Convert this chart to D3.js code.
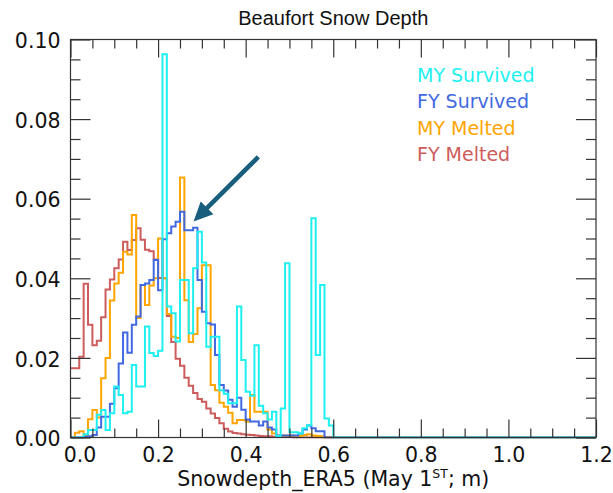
<!DOCTYPE html>
<html>
<head>
<meta charset="utf-8">
<script src="https://cdn.jsdelivr.net/npm/d3@7"></script>
<style>
  html, body { margin: 0; padding: 0; background: #fff; }
  svg { display: block; }
</style>
</head>
<body>
<div id="chart"></div>
<script>
// Histogram bin width (m); bin i covers [i*binWidth, (i+1)*binWidth)
const binWidth = 0.01;

// Normalized frequency per 0.01 m snow-depth bin, starting at 0.00 m
const mySurvived = [
  0, 0, 0, 0.0008, 0.0019, 0.0019, 0.0057, 0.0069, 0.0019, 0.0061,
  0.0128, 0.0107, 0.0061, 0.0065, 0.0182, 0.0128, 0.0128, 0.0279, 0.0212, 0.0205,
  0.0218, 0.0963, 0.0329, 0.0312, 0.0241, 0.0396, 0.0396, 0.0262, 0.0425, 0.0517,
  0.0440, 0.0228, 0.0253, 0.0253, 0.0119, 0.0110, 0.0086, 0.0086, 0.0329, 0.0195,
  0.0115, 0.0105, 0.0232, 0.0080, 0.0061, 0.0045, 0.0065, 0.0004, 0.0073, 0.0438,
  0.0013, 0.0013, 0.0010, 0.0023, 0.0031, 0.0551, 0.0207, 0.0383, 0.0048, 0.0030
];
const fySurvived = [
  0, 0, 0, 0.0002, 0.0003, 0.0006, 0.0025, 0.0052, 0.0052, 0.0085,
  0.0124, 0.0186, 0.0264, 0.0213, 0.0283, 0.0304, 0.0383, 0.0387, 0.0396, 0.0446,
  0.0370, 0.0498, 0.0513, 0.0530, 0.0542, 0.0567, 0.0521, 0.0521, 0.0527, 0.0396,
  0.0316, 0.0287, 0.0284, 0.0207, 0.0132, 0.0118, 0.0095, 0.0077, 0.0100, 0.0070,
  0.0045, 0.0040, 0.0040, 0.0030, 0.0040, 0.0025, 0.0020, 0.0005, 0.0005, 0.0005,
  0.0005, 0.0005, 0.0010, 0.0020, 0.0030, 0.0023, 0.0016, 0.0016
];
const myMelted = [
  0, 0.0012, 0.0016, 0.0006, 0.0046, 0.0069, 0.0050, 0.0149, 0.0200, 0.0344,
  0.0387, 0.0414, 0.0467, 0.0460, 0.0559, 0.0300, 0.0383, 0.0333, 0.0382, 0.0400,
  0.0500, 0.0400, 0.0310, 0.0253, 0.0250, 0.0653, 0.0345, 0.0240, 0.0260, 0.0325,
  0.0433, 0.0433, 0.0132, 0.0119, 0.0087, 0.0077, 0.0062, 0.0036, 0.0044, 0.0044,
  0.0040, 0.0107, 0.0065, 0.0065, 0.0065, 0.0020, 0.0010, 0.0005, 0.0005, 0.0005,
  0.0005, 0.0004, 0.0004, 0.0006, 0.0008, 0.0005, 0.0004, 0.0003
];
const fyMelted = [
  0.0174, 0.0174, 0.0203, 0.0386, 0.0283, 0.0232, 0.0243, 0.0302, 0.0372, 0.0397,
  0.0425, 0.0447, 0.0492, 0.0471, 0.0496, 0.0526, 0.0497, 0.0472, 0.0468, 0.0447,
  0.0401, 0.0400, 0.0305, 0.0240, 0.0198, 0.0180, 0.0150, 0.0130, 0.0112, 0.0097,
  0.0090, 0.0073, 0.0060, 0.0049, 0.0036, 0.0022, 0.0015, 0.0011, 0.0010, 0.0008,
  0.0007, 0.0006, 0.0005, 0.0004, 0.0003, 0.0003, 0.0002, 0.0002, 0.0002, 0.0001,
  0.0001
];

const seriesNames = ["MY Survived", "FY Survived", "MY Melted", "FY Melted"];
const seriesColors = ["#1ef0f0", "#4169e1", "#ffa500", "#cd5c5c"];
const seriesData = [mySurvived, fySurvived, myMelted, fyMelted];

const xTicksMajor = [0.0, 0.2, 0.4, 0.6, 0.8, 1.0, 1.2];
const yTicksMajor = [0.00, 0.02, 0.04, 0.06, 0.08, 0.10];

// Arrow annotation, in data units: tail and head
const arrowFrom = [0.429, 0.0705];
const arrowTo = [0.281, 0.0543];

const W = 613, H = 493;
const L = 70.5, R = 596, T = 39.5, B = 437.5;

const x = d3.scaleLinear().domain([0, 1.2]).range([L, R]);
const y = d3.scaleLinear().domain([0, 0.1]).range([B, T]);

const svg = d3.select("#chart").append("svg")
  .attr("width", W).attr("height", H);

svg.append("defs").append("clipPath").attr("id", "plotclip")
  .append("rect").attr("x", L).attr("y", T - 1).attr("width", R - L).attr("height", B - T + 2);

// Title
svg.append("text")
  .attr("x", (L + R) / 2).attr("y", 25)
  .attr("text-anchor", "middle")
  .style("font-family", "'Liberation Sans', Arial, sans-serif")
  .style("font-size", "20px")
  .attr("fill", "#111")
  .text("Beaufort Snow Depth");

// Step path for one histogram; runs along zero out to the end of the axis
function stepPath(vals) {
  const p = d3.path();
  p.moveTo(x(0), y(vals[0]));
  for (let i = 0; i < vals.length; i++) {
    if (i > 0) p.lineTo(x(i * binWidth), y(vals[i]));
    p.lineTo(x((i + 1) * binWidth), y(vals[i]));
  }
  p.lineTo(x(vals.length * binWidth), y(0));
  p.lineTo(x(1.2), y(0));
  return p.toString();
}

const gData = svg.append("g").attr("clip-path", "url(#plotclip)");
// drawn so that the survived curves sit on top
[3, 2, 1, 0].forEach(k => {
  gData.append("path")
    .attr("d", stepPath(seriesData[k]))
    .attr("fill", "none")
    .attr("stroke", seriesColors[k])
    .attr("stroke-width", 2)
    .attr("stroke-linejoin", "miter");
});

// Frame
svg.append("rect")
  .attr("x", L).attr("y", T).attr("width", R - L).attr("height", B - T)
  .attr("fill", "none").attr("stroke", "#333").attr("stroke-width", 1.2);

const fontTick = "'DejaVu Sans', Verdana, sans-serif";
const xMinor = d3.range(0, 1.2001, 0.05).filter(v => Math.abs(v * 5 - Math.round(v * 5)) > 1e-6);
const yMinor = d3.range(0, 0.10001, 0.005).filter(v => Math.abs(v * 50 - Math.round(v * 50)) > 1e-6);

function styleAxis(g) {
  g.select(".domain").remove();
  g.selectAll("line").attr("stroke", "#333").attr("stroke-width", 1.2);
  g.attr("font-family", null).attr("font-size", null);
  g.selectAll("text").style("font-family", fontTick).style("font-size", "20.5px").attr("fill", "#111");
}

// bottom
const gxB = svg.append("g").attr("transform", `translate(0,${B})`)
  .call(d3.axisBottom(x).tickValues(xTicksMajor).tickSize(-18).tickPadding(10).tickFormat(d3.format(".1f")));
styleAxis(gxB);
gxB.selectAll("text").filter(d => d === 0).attr("dx", "9");
const gxBm = svg.append("g").attr("transform", `translate(0,${B})`)
  .call(d3.axisBottom(x).tickValues(xMinor).tickSize(-9).tickFormat(""));
styleAxis(gxBm);
// top
const gxT = svg.append("g").attr("transform", `translate(0,${T})`)
  .call(d3.axisTop(x).tickValues(xTicksMajor).tickSize(-18).tickFormat(""));
styleAxis(gxT);
const gxTm = svg.append("g").attr("transform", `translate(0,${T})`)
  .call(d3.axisTop(x).tickValues(xMinor).tickSize(-9).tickFormat(""));
styleAxis(gxTm);
// left
const gyL = svg.append("g").attr("transform", `translate(${L},0)`)
  .call(d3.axisLeft(y).tickValues(yTicksMajor).tickSize(-20).tickPadding(10).tickFormat(d3.format(".2f")));
styleAxis(gyL);
gyL.selectAll("text").attr("dy", "0.4em");
const gyLm = svg.append("g").attr("transform", `translate(${L},0)`)
  .call(d3.axisLeft(y).tickValues(yMinor).tickSize(-10).tickFormat(""));
styleAxis(gyLm);
// right
const gyR = svg.append("g").attr("transform", `translate(${R},0)`)
  .call(d3.axisRight(y).tickValues(yTicksMajor).tickSize(-20).tickFormat(""));
styleAxis(gyR);
const gyRm = svg.append("g").attr("transform", `translate(${R},0)`)
  .call(d3.axisRight(y).tickValues(yMinor).tickSize(-10).tickFormat(""));
styleAxis(gyRm);

// x-axis title with superscript
const xt = svg.append("text")
  .attr("x", (L + R) / 2).attr("y", 486)
  .attr("text-anchor", "middle")
  .style("font-family", fontTick)
  .style("font-size", "20.5px")
  .attr("fill", "#111");
xt.append("tspan").text("Snowdepth_ERA5 (May 1");
xt.append("tspan").attr("dy", "-8").style("font-size", "12.5px").text("ST");
xt.append("tspan").attr("dy", "8").text("; m)");

// Legend
const legend = svg.append("g");
seriesNames.forEach((name, i) => {
  legend.append("text")
    .attr("x", 417).attr("y", 81.5 + i * 26.5)
    .style("font-family", fontTick)
    .style("font-size", "19px")
    .attr("fill", seriesColors[i])
    .text(name);
});

// Arrow annotation
const ax0 = x(arrowFrom[0]), ay0 = y(arrowFrom[1]);
const ax1 = x(arrowTo[0]), ay1 = y(arrowTo[1]);
const ang = Math.atan2(ay1 - ay0, ax1 - ax0);
const headLen = 19, headHalf = 9;
const bx = ax1 - headLen * Math.cos(ang), by = ay1 - headLen * Math.sin(ang);
const arrowColor = "#1a5e7e";
svg.append("line")
  .attr("x1", ax0).attr("y1", ay0).attr("x2", bx + 2 * Math.cos(ang)).attr("y2", by + 2 * Math.sin(ang))
  .attr("stroke", arrowColor).attr("stroke-width", 4.5);
svg.append("path")
  .attr("d", d3.line()([
    [ax1, ay1],
    [bx + headHalf * Math.sin(ang), by - headHalf * Math.cos(ang)],
    [bx - headHalf * Math.sin(ang), by + headHalf * Math.cos(ang)]
  ]) + "Z")
  .attr("fill", arrowColor);
</script>
</body>
</html>
